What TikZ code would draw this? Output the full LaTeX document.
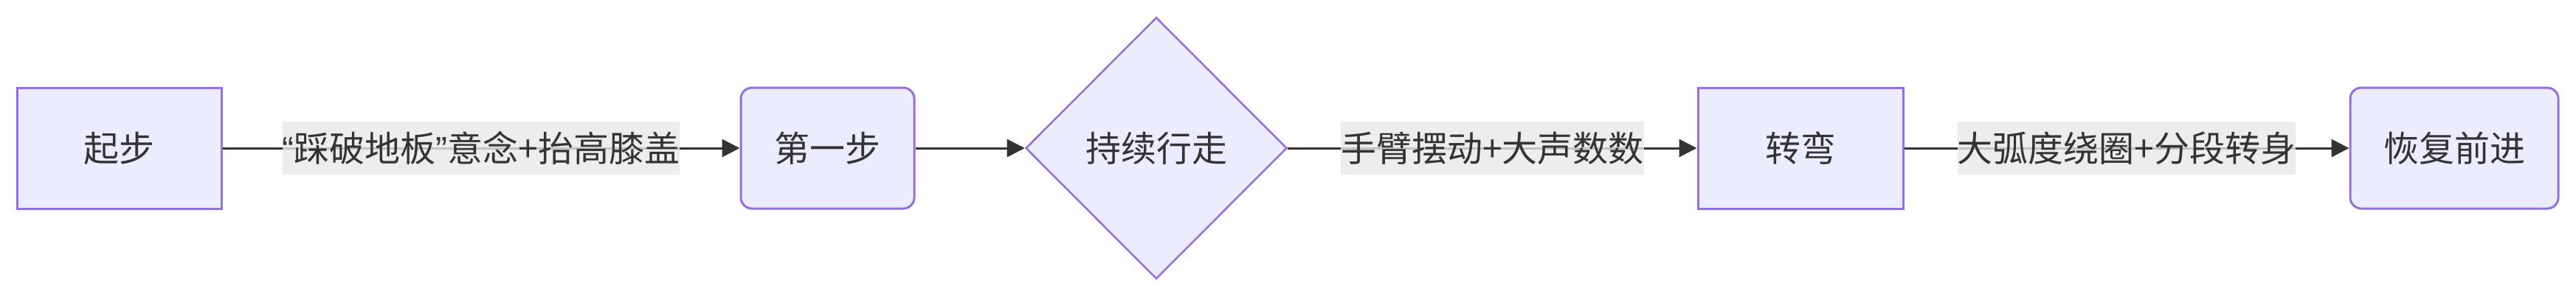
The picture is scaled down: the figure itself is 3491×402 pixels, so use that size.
\documentclass[tikz,border=0pt]{standalone}
\usepackage{fontspec}
\setmainfont{Noto Sans CJK SC}
\newfontfamily\quotefont{Liberation Sans}
\usetikzlibrary{shapes.geometric,arrows.meta}
\definecolor{nodefill}{HTML}{ECECFF}
\definecolor{nodeline}{HTML}{9370DB}
\definecolor{ink}{HTML}{333333}
\definecolor{lblbg}{HTML}{E8E8E8}
\newcommand{\myopenq}{{\quotefont “}}
\newcommand{\mycloseq}{{\quotefont ”}}
\begin{document}
\begin{tikzpicture}[x=1pt,y=-1pt,
  every node/.style={font=\fontsize{48}{58}\selectfont, text=ink},
  boxnode/.style={draw=nodeline, fill=nodefill, line width=3pt, minimum height=164pt, inner sep=0pt},
  roundnode/.style={boxnode, rounded corners=15pt},
  decide/.style={diamond, draw=nodeline, fill=nodefill, line width=2.5pt, minimum width=354pt, minimum height=355pt, inner sep=0pt},
  flow/.style={draw=ink, line width=3pt, -{Triangle[length=24pt,width=24pt]}},
  lbl/.style={fill=lblbg, fill opacity=0.8, text opacity=1, inner xsep=0pt, inner ysep=0pt, minimum height=72pt}
]
\useasboundingbox (0,0) rectangle (3491,402);
\node[boxnode, minimum width=277pt] (n1) at (161.5,201) {起步};
\node[roundnode, minimum width=235pt] (n2) at (1121.5,201) {第一步};
\node[decide] (n3) at (1567,201) {持续行走};
\node[boxnode, minimum width=278pt] (n4) at (2440,201) {转弯};
\node[roundnode, minimum width=282pt] (n5) at (3326,201) {恢复前进};
\draw[flow] (n1) -- node[lbl] (l1) {\myopenq 踩破地板\mycloseq 意念+抬高膝盖} (n2);
\draw[flow] (n2) -- (n3);
\draw[flow] (n3) -- node[lbl] (l2) {手臂摆动+大声数数} (n4);
\draw[flow] (n4) -- node[lbl] (l3) {大弧度绕圈+分段转身} (n5);
\end{tikzpicture}
\end{document}
